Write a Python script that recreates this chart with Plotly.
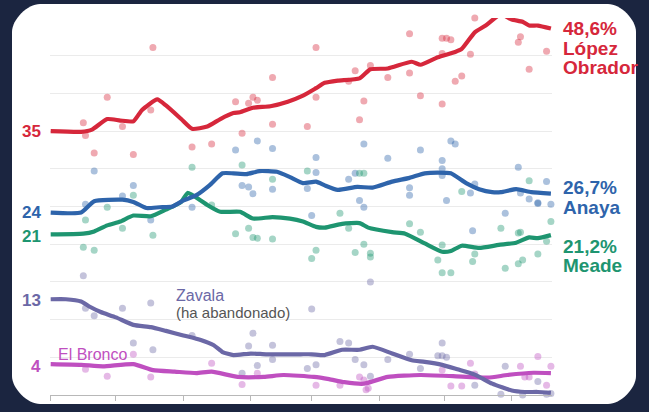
import plotly.graph_objects as go
import pandas as pd

START = pd.Timestamp("2017-11-01")

# ---- smoothed poll averages (days since 2017-11-01, %) ----
amlo_days = [0, 14, 19, 26, 32, 38, 42, 49, 53, 60, 65, 72, 78, 84, 87, 93, 101, 109, 116, 122, 126, 132, 142, 147, 155, 166, 170, 178, 186, 189, 195, 200, 207, 212, 217, 220, 224, 230]
amlo_vals = [35.0, 34.9, 35.2, 36.6, 36.4, 36.3, 37.8, 39.2, 38.4, 36.6, 35.3, 35.6, 36.6, 37.4, 37.5, 38.1, 38.3, 38.9, 39.7, 40.7, 41.4, 41.7, 42.0, 43.2, 43.3, 44.2, 43.8, 44.8, 45.5, 45.9, 48.1, 49.0, 50.5, 49.8, 49.5, 49.0, 49.0, 48.6]

anaya_days = [0, 14, 20, 33, 38, 44, 50, 56, 61, 67, 73, 79, 84, 90, 96, 104, 110, 116, 122, 126, 132, 141, 148, 157, 165, 172, 178, 184, 191, 197, 203, 207, 214, 221, 230]
anaya_vals = [24.2, 24.2, 25.7, 25.9, 25.6, 24.8, 24.9, 25.0, 25.8, 26.5, 27.8, 29.4, 29.4, 29.3, 29.7, 29.6, 28.9, 28.1, 28.3, 27.8, 27.2, 27.6, 27.5, 28.3, 28.8, 29.4, 29.5, 29.4, 28.1, 27.3, 26.9, 26.9, 27.3, 26.9, 26.7]

meade_days = [0, 15, 20, 26, 32, 38, 46, 53, 60, 63, 69, 72, 78, 87, 93, 102, 110, 116, 122, 126, 134, 142, 146, 157, 163, 172, 180, 184, 189, 197, 206, 214, 220, 224, 230]
meade_vals = [21.3, 21.4, 21.7, 22.5, 23.0, 23.8, 23.7, 24.6, 25.6, 26.8, 25.8, 25.2, 24.3, 24.3, 23.4, 23.6, 23.4, 23.0, 22.3, 22.2, 22.7, 22.8, 22.2, 21.6, 21.4, 20.1, 19.0, 19.1, 19.8, 19.5, 19.9, 20.2, 20.9, 20.8, 21.2]

zavala_days = [0, 7, 14, 18, 23, 30, 38, 46, 53, 61, 69, 75, 79, 84, 92, 99, 107, 115, 120, 126, 134, 142, 148, 157, 166, 172, 180, 187, 195, 203, 212, 218, 224, 230]
zavala_vals = [12.7, 12.7, 12.4, 11.7, 11.0, 10.3, 9.3, 9.0, 8.5, 7.9, 7.3, 6.6, 5.7, 5.3, 5.5, 5.4, 5.4, 5.4, 5.4, 5.3, 6.0, 6.0, 6.4, 5.5, 4.6, 4.4, 4.0, 3.4, 2.7, 1.5, 0.6, 0.4, 0.4, 0.3]

bronco_days = [0, 14, 24, 38, 47, 57, 67, 74, 86, 98, 107, 121, 128, 135, 144, 155, 170, 185, 201, 210, 222, 230]
bronco_vals = [4.1, 4.0, 3.8, 4.1, 3.3, 3.1, 2.9, 3.1, 2.4, 2.4, 2.65, 2.4, 2.1, 1.7, 1.5, 2.4, 2.65, 2.5, 2.3, 2.65, 2.95, 2.9]

# ---- individual polls ----
amlo_poll_days = [47, 26, 15, 16, 20, 33, 38, 46, 65, 74, 85, 88, 91, 93, 95, 102, 102, 118, 122, 122, 147, 165, 180, 182, 184, 195, 207, 215, 224, 216, 215, 228, 220, 193, 189, 186, 180, 170, 165, 155, 147, 140, 137, 144, 142, 180]
amlo_poll_vals = [46.1, 39.5, 36.1, 34.4, 32.1, 35.6, 31.9, 37.8, 32.9, 33.3, 38.9, 34.7, 38.7, 39.5, 39.1, 42.1, 35.9, 35.6, 46.1, 39.5, 51.2, 47.9, 47.3, 47.3, 47.1, 50.0, 51.5, 50.6, 50.8, 47.5, 46.8, 45.6, 43.2, 45.2, 42.3, 41.6, 38.6, 39.7, 42.7, 42.1, 43.7, 43.0, 41.6, 39.0, 36.5, 45.3]

anaya_poll_days = [20, 38, 33, 16, 65, 85, 95, 102, 88, 91, 93, 102, 118, 122, 122, 144, 155, 170, 184, 186, 180, 180, 180, 137, 140, 142, 144, 165, 165, 182, 193, 195, 215, 216, 220, 224, 228, 230, 209, 224, 194, 120, 46]
anaya_poll_vals = [29.7, 27.8, 26.4, 25.3, 24.9, 32.5, 33.7, 32.7, 27.8, 27.6, 26.7, 27.3, 27.4, 31.5, 29.5, 33.3, 31.4, 32.5, 33.7, 33.3, 31.1, 30.0, 29.1, 28.6, 29.4, 25.8, 24.9, 27.5, 26.5, 25.8, 26.8, 28.0, 30.2, 26.8, 26.0, 25.5, 28.3, 25.3, 24.1, 25.4, 21.8, 23.8, 23.2]

meade_poll_days = [65, 88, 102, 118, 38, 26, 74, 142, 144, 189, 220, 16, 33, 47, 15, 20, 85, 91, 93, 95, 102, 122, 120, 133, 137, 140, 144, 147, 147, 165, 170, 178, 180, 180, 184, 194, 195, 207, 209, 215, 216, 215, 217, 224, 230, 228]
meade_poll_vals = [30.2, 30.5, 28.6, 29.7, 26.5, 24.9, 25.2, 29.4, 29.4, 27.0, 28.4, 23.2, 22.1, 21.2, 19.6, 19.2, 21.4, 22.1, 20.9, 20.8, 20.7, 19.2, 18.1, 24.1, 22.1, 18.9, 20.0, 18.8, 18.3, 22.7, 21.6, 17.9, 19.9, 16.2, 16.2, 17.7, 18.7, 22.1, 16.8, 21.5, 21.6, 17.4, 17.9, 18.7, 23.0, 20.4]

zavala_poll_days = [15, 16, 20, 33, 46, 38, 47, 65, 91, 93, 95, 102, 102, 120, 118, 122, 133, 137, 140, 144, 147, 147, 155, 165, 170, 178, 180, 182, 180, 195, 207, 209, 217, 224, 228, 230, 88]
zavala_poll_vals = [15.8, 11.5, 10.5, 11.5, 12.2, 6.9, 6.0, 7.9, 6.5, 8.2, 3.9, 6.6, 4.7, 11.4, 3.5, 4.0, 7.1, 6.9, 4.7, 4.0, 2.5, 15.0, 4.7, 5.4, 3.5, 5.2, 5.2, 5.0, 6.9, 1.3, 0.1, 3.8, 0.0, 1.8, 0.1, 0.2, 2.9]

bronco_poll_days = [16, 26, 38, 46, 74, 88, 122, 95, 133, 142, 144, 145, 146, 180, 184, 189, 193, 195, 216, 224, 230, 218, 220, 228]
bronco_poll_vals = [3.4, 2.5, 5.4, 2.4, 4.2, 1.4, 1.3, 2.9, 1.3, 2.4, 2.0, 0.7, 0.9, 3.3, 1.2, 1.2, 4.2, 2.8, 3.8, 5.1, 3.8, 2.4, 2.4, 1.3]

RED, BLUE, GREEN, PURPLE, MAGENTA = "#d6273b", "#2e64ab", "#1e9570", "#6b68a6", "#bf4fc0"
NAVY = "#1b2540"
FONT = "Liberation Sans, Arial, sans-serif"


def to_dates(days):
    return [START + pd.Timedelta(days=d) for d in days]


series = [
    (amlo_days, amlo_vals, amlo_poll_days, amlo_poll_vals, RED),
    (anaya_days, anaya_vals, anaya_poll_days, anaya_poll_vals, BLUE),
    (meade_days, meade_vals, meade_poll_days, meade_poll_vals, GREEN),
    (zavala_days, zavala_vals, zavala_poll_days, zavala_poll_vals, PURPLE),
    (bronco_days, bronco_vals, bronco_poll_days, bronco_poll_vals, MAGENTA),
]

fig = go.Figure()
for _, _, pd_, pv, col in series:
    fig.add_trace(go.Scatter(x=to_dates(pd_), y=pv, mode="markers",
                             marker=dict(size=7, color=col, opacity=0.4, line=dict(width=0)),
                             cliponaxis=False, hoverinfo="skip", showlegend=False))
for d, v, _, _, col in reversed(series):
    fig.add_trace(go.Scatter(x=to_dates(d), y=v, mode="lines",
                             line=dict(color=col, width=4.2, shape="spline", smoothing=0.5),
                             cliponaxis=False, hoverinfo="skip", showlegend=False))

# plot-area pixel frame
PL, PR, PT, PB = 50, 552, 18, 395


def px(x):
    return (x - PL) / (PR - PL)


def py(y):
    return (PB - y) / (PB - PT)


# rounded white card
x0, x1, yt, yb, r = 12, 636, 4, 404, 28
k = 0.448 * r
path = (f"M {px(x0 + r)} {py(yt)} L {px(x1 - r)} {py(yt)} "
        f"C {px(x1 - r + k)} {py(yt)} {px(x1)} {py(yt + r - k)} {px(x1)} {py(yt + r)} "
        f"L {px(x1)} {py(yb - r)} "
        f"C {px(x1)} {py(yb - r + k)} {px(x1 - r + k)} {py(yb)} {px(x1 - r)} {py(yb)} "
        f"L {px(x0 + r)} {py(yb)} "
        f"C {px(x0 + r - k)} {py(yb)} {px(x0)} {py(yb - r + k)} {px(x0)} {py(yb - r)} "
        f"L {px(x0)} {py(yt + r)} "
        f"C {px(x0)} {py(yt + r - k)} {px(x0 + r - k)} {py(yt)} {px(x0 + r)} {py(yt)} Z")
fig.add_shape(type="path", path=path, xref="paper", yref="paper",
              fillcolor="white", line=dict(width=0), layer="below")

annos = []


def label(text, x, y, color, size, anchor="left", bold=True):
    t = f"<b>{text}</b>" if bold else text
    annos.append(dict(text=t, x=px(x), y=py(y), xref="paper", yref="paper",
                      xanchor=anchor, yanchor="middle", showarrow=False,
                      font=dict(family=FONT, size=size, color=color)))


label("35", 43, 131, RED, 17, "right")
label("24", 43, 213, BLUE, 17, "right")
label("21", 43, 236, GREEN, 17, "right")
label("13", 43, 300, PURPLE, 17, "right")
label("4", 43, 366, MAGENTA, 17, "right")

label("48,6%", 561, 29, RED, 19)
label("López", 561, 48, RED, 19)
label("Obrador", 561, 67, RED, 19)
label("26,7%", 561, 188, BLUE, 19)
label("Anaya", 561, 207, BLUE, 19)
label("21,2%", 561, 246, GREEN, 19)
label("Meade", 561, 265, GREEN, 19)

label("Zavala", 174, 295, PURPLE, 16, bold=False)
label("(ha abandonado)", 174, 312, "#555555", 15, bold=False)
label("El Bronco", 56, 354, MAGENTA, 16, bold=False)

fig.update_layout(
    width=649, height=412, autosize=False,
    margin=dict(l=PL, r=649 - PR, t=PT, b=412 - PB, pad=0),
    paper_bgcolor=NAVY, plot_bgcolor="rgba(0,0,0,0)",
    annotations=annos, showlegend=False,
    xaxis=dict(type="date", range=["2017-10-31 16:20", "2018-06-19 12:00"],
               showgrid=False, zeroline=False, showticklabels=False,
               ticks="outside", ticklen=5, tickcolor="#b8b8b8", tickwidth=1,
               dtick="M1", tick0="2017-11-01",
               showline=True, linecolor="#b8b8b8", linewidth=1, fixedrange=True),
    yaxis=dict(range=[0, 50], dtick=5, showgrid=True, gridcolor="#ebebeb", gridwidth=1,
               zeroline=False, showticklabels=False, ticks="", fixedrange=True),
)

fig.write_html("out.html", config={"displayModeBar": False, "staticPlot": True},
               post_script="document.body.style.margin='0';document.body.style.background='#1b2540';")
